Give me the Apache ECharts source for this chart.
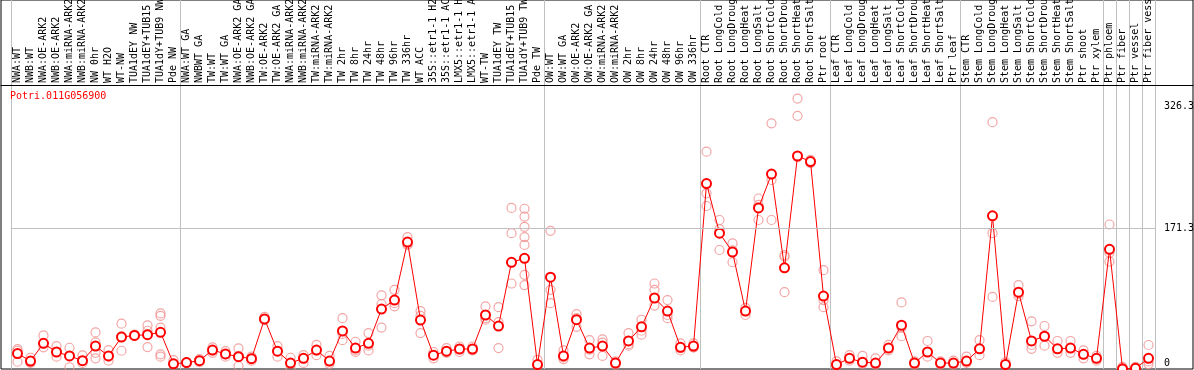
<!DOCTYPE html>
<html>
<head>
<meta charset="utf-8">
<script src="https://cdn.jsdelivr.net/npm/echarts@6/dist/echarts.min.js"></script>
<style>
html,body{margin:0;padding:0;background:#fff;}
#chart{width:1194px;height:370px;}
</style>
</head>
<body>
<div id="chart"></div>
<script>
const geneId = 'Potri.011G056900';

const categories = [
  'NWA:WT','NWB:WT','NWA:OE-ARK2','NWB:OE-ARK2','NWA:miRNA-ARK2','NWB:miRNA-ARK2','NW 0hr','WT H2O','WT-NW',
  'TUA1dEY NW','TUA1dEY+TUB15 NW','TUA1dY+TUB9 NW','Pde NW',
  'NWA:WT GA','NWBWT GA','TW:WT','TW:WT GA','NWA:OE-ARK2 GA','NWB:OE-ARK2 GA','TW:OE-ARK2','TW:OE-ARK2 GA',
  'NWA:miRNA-ARK2','NWB:miRNA-ARK2','TW:miRNA-ARK2','TW:miRNA-ARK2','TW 2hr','TW 8hr','TW 24hr','TW 48hr',
  'TW 96hr','TW 336hr','WT ACC','35S::etr1-1 H2O','35S::etr1-1 ACC','LMX5::etr1-1 H2O','LMX5::etr1-1 ACC',
  'WT-TW','TUA1dEY TW','TUA1dEY+TUB15 TW','TUA1dY+TUB9 TW','Pde TW',
  'OW:WT','OW:WT GA','OW:OE-ARK2','OW:OE-ARK2 GA','OW:miRNA-ARK2','OW:miRNA-ARK2','OW 2hr','OW 8hr',
  'OW 24hr','OW 48hr','OW 96hr','OW 336hr',
  'Root CTR','Root LongCold','Root LongDrought','Root LongHeat','Root LongSalt','Root ShortCold',
  'Root ShortDrought','Root ShortHeat','Root ShortSalt','Ptr root',
  'Leaf CTR','Leaf LongCold','Leaf LongDrought','Leaf LongHeat','Leaf LongSalt','Leaf ShortCold',
  'Leaf ShortDrought','Leaf ShortHeat','Leaf ShortSalt','Ptr leaf',
  'Stem CTR','Stem LongCold','Stem LongDrought','Stem LongHeat','Stem LongSalt','Stem ShortCold',
  'Stem ShortDrought','Stem ShortHeat','Stem ShortSalt','Ptr shoot','Ptr xylem',
  'Ptr phloem','Ptr fiber','Ptr vessel','Ptr fiber vessel'
];

// index of first category of each group (vertical separators)
const groupStarts = [0, 13, 41, 53, 63, 73, 84, 85, 86, 87];

const means = [
  12, 2.5, 25, 14, 9, 3, 21.5, 9, 33, 35, 36, 39, -1,
  0.5, 3, 16.5, 11.5, 8, 5.5, 56, 15, 0, 6, 16.5, 2.5, 40.7, 19, 25, 68.6, 80, 153.7, 54.6, 10, 15, 17.8, 17.8, 61, 47, 128, 133, -2,
  109, 9, 55, 19, 21.6, 0, 28, 46, 82.6, 66, 20, 21.6,
  228, 165, 141, 66, 197, 240, 121, 263, 256, 85,
  -2, 6, 1, 0, 19, 48, 0, 14, 0, 0,
  2.5, 18, 187, -2, 90, 28, 34, 18, 19, 11, 6,
  144.5, -7.5, -6.7, 6
];

const replicates = [
  [17.7,15.6,1.6],[6.7,1,0],[35,20,25],[21.5,8,14],[19.4,-5.4,9],[9.7,3,0],[38.9,26.2,13,5.9],[16.5,8,3],[50,15.6,34],
  [34,35,36],[47.7,20.3,41],[63,60,45,11,8],[3.8,-1,-2],
  [0.5,1,0],[3,5,1],[20,16,13],[11,8,15],[18.6,-3.8,9],[5.5,8,3],[58.6,54.4,55],[21.5,8,15],
  [6.7,-5.9,0],[6,0,10],[10,23,16],[9,2,-1],[57,29,37],[27,16,14],[38,16,22],[86,75,45],
  [93,72,76],[160,150,151],[66,38,60],[14,6,10],[19,13,14],[21,14,18],[21,16,17],
  [72,55,57],[71,52,19],[197,165,101,128],[196,186,173,160,150,112,99],[4,-2,-3],
  [168,93,76],[16,5,7],[62,46,57],[29,17,11],[9,30,26],[0,2,-2],[38,22,24],[55,41,36],[101,93,73],[80,57,61],[25,16,19],[25,20,20],
  [268.5,215.6,199.5],[181.7,143.6,170],[152,128,143],[61,70,66],[209,181.7,201],[304.5,232.5,181.7],[137,90,135],[336,314,262],[258,255,254],[118,71,80],
  [2,-2,-3],[10,6,3],[9,1,-1],[6,0,-2],[23,19,16],[77,34,45],[2,-2,0],[28,8,14],[2,-2,0],[3,0,-2],
  [8,2,0],[29,10,18],[306,165,84],[1,-2,-3],[99,85,88],[53,23,18],[47,22,34],[28,13,18],[28,13,19],[16,6,11],[9,6,3],
  [176,128.7,140],[-7,-6,-5],[-6,-7,-5],[22.9,-1.3,2]
];

const yTicks = [0, 171.3, 326.3];
const yRange = [-7.6, 461.2];

const FONT = 'DejaVu Sans Mono';

const repData = [];
replicates.forEach((arr, i) => arr.forEach(v => repData.push([i, v])));

const chart = echarts.init(document.getElementById('chart'), null, {renderer: 'canvas'});
chart.setOption({
  animation: false,
  backgroundColor: '#ffffff',
  title: {
    text: geneId, left: 10, top: 91, padding: 0,
    textStyle: {color: '#ff0000', fontSize: 10, fontWeight: 'normal', fontFamily: FONT}
  },
  grid: [
    {left: 11, right: 39, top: 0, bottom: 1, containLabel: false, outerBoundsMode: 'none'},
    {left: 1, right: 1, top: 0, bottom: 1, containLabel: false, outerBoundsMode: 'none',
     show: true, borderColor: '#000', borderWidth: 1, backgroundColor: 'transparent'}
  ],
  xAxis: [
    {
      type: 'category', gridIndex: 0, data: categories, position: 'top', offset: -85, boundaryGap: true,
      axisLine: {show: false}, axisTick: {show: false},
      axisLabel: {rotate: 90, interval: 0, margin: 2, fontSize: 10, fontFamily: FONT, color: '#000', hideOverlap: false},
      splitLine: {show: true, interval: (i) => groupStarts.includes(i), lineStyle: {color: '#c0c0c0', width: 1}}
    },
    {
      type: 'value', gridIndex: 1, position: 'top', offset: -85, min: 0, max: 1,
      axisLine: {show: true, onZero: false, lineStyle: {color: '#000', width: 1}},
      axisTick: {show: false}, axisLabel: {show: false}, splitLine: {show: false}
    }
  ],
  yAxis: [
    {
      type: 'value', gridIndex: 0, position: 'right', min: yRange[0], max: yRange[1],
      axisLine: {show: true, lineStyle: {color: '#c0c0c0', width: 1}},
      axisTick: {show: false}, splitLine: {show: false},
      axisLabel: {customValues: yTicks, formatter: (v) => String(v), margin: 9, fontSize: 10, fontFamily: FONT, color: '#000', align: 'left'}
    },
    {type: 'value', gridIndex: 1, show: false, min: 0, max: 1}
  ],
  series: [
    {
      name: 'replicates', type: 'scatter', xAxisIndex: 0, yAxisIndex: 0, data: repData,
      symbol: 'circle', symbolSize: 9, z: 2, silent: true,
      itemStyle: {color: 'rgba(255,255,255,0)', borderColor: '#f09090', borderWidth: 1.2}
    },
    {
      name: 'mean', type: 'line', xAxisIndex: 0, yAxisIndex: 0, data: means,
      symbol: 'emptyCircle', symbolSize: 9, showAllSymbol: true, clip: false, z: 3,
      itemStyle: {color: '#ff0000', borderColor: '#ff0000', borderWidth: 1.3},
      lineStyle: {color: '#ff0000', width: 1},
      markLine: {
        silent: true, symbol: 'none', label: {show: false}, animation: false,
        lineStyle: {color: '#c0c0c0', type: 'solid', width: 1},
        data: [{yAxis: yTicks[1]}]
      }
    }
  ]
});
</script>
</body>
</html>
